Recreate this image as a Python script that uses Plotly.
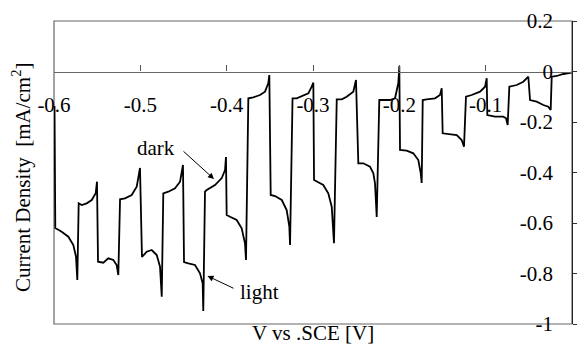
import plotly.graph_objects as go

# Potential (V vs SCE) and current density (mA/cm^2)
V = [-0.5994, -0.5985, -0.5911, -0.5834, -0.5776, -0.5745, -0.5730, -0.5714, -0.5679, -0.5621,
     -0.5563, -0.5517, -0.5502, -0.5490, -0.5429, -0.5371, -0.5313, -0.5274, -0.5255, -0.5235,
     -0.5178, -0.5100, -0.5042, -0.5004, -0.4981, -0.4926, -0.4868, -0.4810, -0.4772, -0.4752,
     -0.4734, -0.4676, -0.4598, -0.4540, -0.4506, -0.4494, -0.4444, -0.4367, -0.4309, -0.4278,
     -0.4271, -0.4251, -0.4231, -0.4135, -0.4057, -0.4019, -0.4008, -0.4000, -0.3961, -0.3884,
     -0.3826, -0.3788, -0.3776, -0.3749, -0.3691, -0.3614, -0.3556, -0.3518, -0.3506, -0.3490,
     -0.3440, -0.3362, -0.3305, -0.3274, -0.3266, -0.3237, -0.3189, -0.3131, -0.3054, -0.3015,
     -0.2996, -0.2988, -0.2957, -0.2881, -0.2823, -0.2783, -0.2757, -0.2725, -0.2667, -0.2610,
     -0.2533, -0.2502, -0.2475, -0.2417, -0.2340, -0.2301, -0.2282, -0.2262, -0.2232, -0.2166,
     -0.2108, -0.2050, -0.2012, -0.2000, -0.1992, -0.1915, -0.1838, -0.1780, -0.1752, -0.1741,
     -0.1729, -0.1683, -0.1587, -0.1529, -0.1509, -0.1498, -0.1413, -0.1335, -0.1278, -0.1251,
     -0.1228, -0.1162, -0.1065, -0.1007, -0.0988, -0.0981, -0.0892, -0.0796, -0.0764, -0.0745,
     -0.0726, -0.0640, -0.0564, -0.0506, -0.0486, -0.0409, -0.0332, -0.0274, -0.0247, -0.0235,
     -0.0177, -0.0100, -0.0003]
J = [-0.1366, -0.6198, -0.6345, -0.6543, -0.6871, -0.7335, -0.8257, -0.5220, -0.5287, -0.5220,
     -0.5089, -0.4824, -0.4364, -0.7533, -0.7572, -0.7398, -0.7465, -0.7663, -0.8059, -0.5061,
     -0.5022, -0.4891, -0.4562, -0.3822, -0.7347, -0.7137, -0.7069, -0.7267, -0.7731, -0.8919,
     -0.4824, -0.4760, -0.4626, -0.4364, -0.3703, -0.7545, -0.7596, -0.7663, -0.7992, -0.8388,
     -0.9485, -0.4760, -0.4693, -0.4495, -0.4218, -0.3901, -0.3386, -0.5683, -0.5750, -0.5881,
     -0.6210, -0.6804, -0.7465, -0.1061, -0.1022, -0.0931, -0.0800, -0.0467, -0.0139, -0.4891,
     -0.4931, -0.5089, -0.5485, -0.6147, -0.6871, -0.1061, -0.1061, -0.0970, -0.0863, -0.0602,
     -0.0444, -0.4297, -0.4364, -0.4495, -0.4824, -0.5354, -0.6804, -0.1101, -0.1101, -0.0998,
     -0.0800, -0.0337, -0.3636, -0.3636, -0.3770, -0.4032, -0.4428, -0.5762, -0.1129, -0.1129,
     -0.1129, -0.1061, -0.0467, 0.0218, -0.3109, -0.3137, -0.3240, -0.3505, -0.4032, -0.4416,
     -0.1129, -0.1101, -0.1061, -0.0931, -0.0665, -0.2448, -0.2475, -0.2515, -0.2713, -0.2978,
     -0.0998, -0.0931, -0.0800, -0.0602, -0.0269, -0.1723, -0.1790, -0.1790, -0.1853, -0.2119,
     -0.0602, -0.0535, -0.0404, -0.0206, -0.1129, -0.1196, -0.1327, -0.1394, -0.1525, -0.0206,
     -0.0178, -0.0099, -0.0048]

x_ticks = [-0.6, -0.5, -0.4, -0.3, -0.2, -0.1, 0.0]
x_tick_labels = ["-0.6", "-0.5", "-0.4", "-0.3", "-0.2", "-0.1", "0"]
y_ticks = [0.2, 0.0, -0.2, -0.4, -0.6, -0.8, -1.0]
y_tick_labels = ["0.2", "0", "-0.2", "-0.4", "-0.6", "-0.8", "-1"]

FONT = "Liberation Serif"
FS = 21

fig = go.Figure()
fig.add_trace(go.Scatter(x=V, y=J, mode="lines",
                         line=dict(color="black", width=1.8), showlegend=False,
                         hoverinfo="skip"))

fig.update_layout(
    width=577, height=346,
    margin=dict(l=54, r=5, t=21, b=22, autoexpand=False),
    paper_bgcolor="white", plot_bgcolor="white",
    font=dict(family=FONT, size=FS, color="black"),
    xaxis=dict(range=[-0.6, 0], tickvals=x_ticks, ticktext=x_tick_labels,
               anchor="free", position=1.0 / 1.2, side="bottom",
               ticks="inside", ticklen=6, tickcolor="#555", tickwidth=1,
               showline=True, linecolor="#666", linewidth=1.2,
               showgrid=False, zeroline=False, ticklabelstandoff=14,
               automargin=False, fixedrange=True,
               tickfont=dict(family=FONT, size=FS, color="black")),
    yaxis=dict(range=[-1, 0.2], tickvals=y_ticks, ticktext=y_tick_labels,
               side="right", ticks="outside", ticklen=5, tickcolor="#333",
               ticklabelposition="inside", ticklabeloverflow="allow",
               ticklabelstandoff=20,
               showline=True, linecolor="#222", linewidth=1.2,
               showgrid=False, zeroline=False, automargin=False, fixedrange=True,
               tickfont=dict(family=FONT, size=FS, color="black")),
    shapes=[dict(type="rect", xref="paper", yref="paper", x0=0, x1=1, y0=0, y1=1,
                 line=dict(color="#666", width=1.2), layer="below")],
    annotations=[
        dict(text="Current Density  [mA/cm<sup>2</sup>]", xref="paper", yref="paper",
             x=-0.0637, y=0.485, textangle=-90, showarrow=False,
             xanchor="center", yanchor="middle", font=dict(family=FONT, size=FS)),
        dict(text="V vs .SCE [V]", xref="paper", yref="paper", x=0.5, y=-0.031,
             showarrow=False, xanchor="center", yanchor="middle",
             font=dict(family=FONT, size=FS)),
        dict(text="dark", x=-0.4818, y=-0.3030, xref="x", yref="y", showarrow=False,
             font=dict(family=FONT, size=FS)),
        dict(text="light", x=-0.3625, y=-0.8733, xref="x", yref="y", showarrow=False,
             font=dict(family=FONT, size=FS)),
        dict(text="", x=-0.4147, y=-0.4257, ax=-0.4517, ay=-0.3109, xref="x", yref="y",
             axref="x", ayref="y", showarrow=True, arrowhead=2, arrowsize=1.2,
             arrowwidth=1, arrowcolor="black"),
        dict(text="", x=-0.4222, y=-0.8099, ax=-0.3903, ay=-0.8614, xref="x", yref="y",
             axref="x", ayref="y", showarrow=True, arrowhead=2, arrowsize=1.2,
             arrowwidth=1, arrowcolor="black"),
    ],
)

fig.write_html("out.html")
